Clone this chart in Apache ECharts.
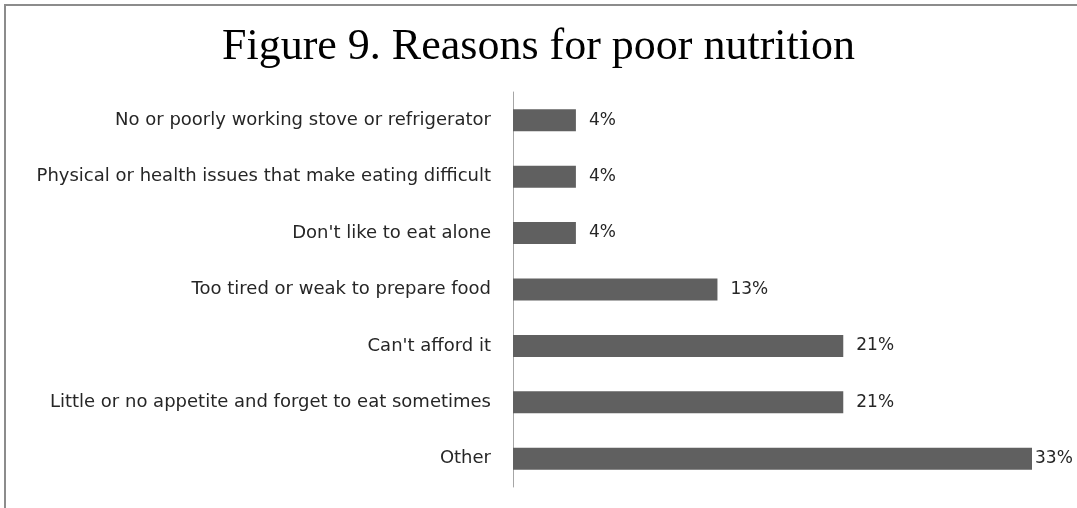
<!DOCTYPE html>
<html>
<head>
<meta charset="utf-8">
<script src="https://cdn.jsdelivr.net/npm/echarts@6/dist/echarts.min.js"></script>
<style>
  html, body { margin: 0; padding: 0; background: #ffffff; }
  #chart { width: 1077px; height: 508px; }
</style>
</head>
<body>
<div id="chart"></div>
<script>
// Reasons for poor nutrition, listed top to bottom
const categories = [
  "No or poorly working stove or refrigerator",
  "Physical or health issues that make eating difficult",
  "Don't like to eat alone",
  "Too tired or weak to prepare food",
  "Can't afford it",
  "Little or no appetite and forget to eat sometimes",
  "Other"
];
// Share of respondents, percent
const percentages = [4, 4, 4, 13, 21, 21, 33];

const maxValue = Math.max(...percentages);

const chart = echarts.init(document.getElementById('chart'), null, { renderer: 'canvas' });

const option = {
  backgroundColor: '#ffffff',
  animation: false,
  title: {
    text: 'Figure 9. Reasons for poor nutrition',
    left: 'center',
    top: 20,
    textStyle: {
      fontFamily: 'Liberation Serif',
      fontSize: 44,
      fontWeight: 'normal',
      color: '#000000'
    }
  },
  graphic: [{
    type: 'rect',
    shape: { x: 5, y: 5, width: 1200, height: 700 },
    style: { fill: 'none', stroke: '#8c8c8c', lineWidth: 2 },
    silent: true,
    z: 100
  }],
  grid: {
    left: 513,
    top: 92,
    width: 519,
    height: 395,
    containLabel: false
  },
  xAxis: {
    type: 'value',
    min: 0,
    max: maxValue,
    show: false
  },
  yAxis: {
    type: 'category',
    data: categories,
    inverse: true,
    axisLine: { show: true, lineStyle: { color: '#a6a6a6', width: 1 } },
    axisTick: { show: false },
    axisLabel: {
      margin: 22,
      fontFamily: 'DejaVu Sans',
      fontSize: 18,
      color: '#262626'
    }
  },
  series: [{
    type: 'bar',
    // the longest bar reaches the plot edge, so its label sits tight to it
    data: percentages.map(v => v === maxValue
      ? { value: v, label: { distance: 3 } }
      : v),
    barWidth: 22,
    itemStyle: { color: '#606060' },
    label: {
      show: true,
      position: 'right',
      distance: 13,
      formatter: p => p.value + '%',
      fontFamily: 'DejaVu Sans',
      fontSize: 17,
      color: '#262626'
    }
  }]
};

chart.setOption(option);
</script>
</body>
</html>
